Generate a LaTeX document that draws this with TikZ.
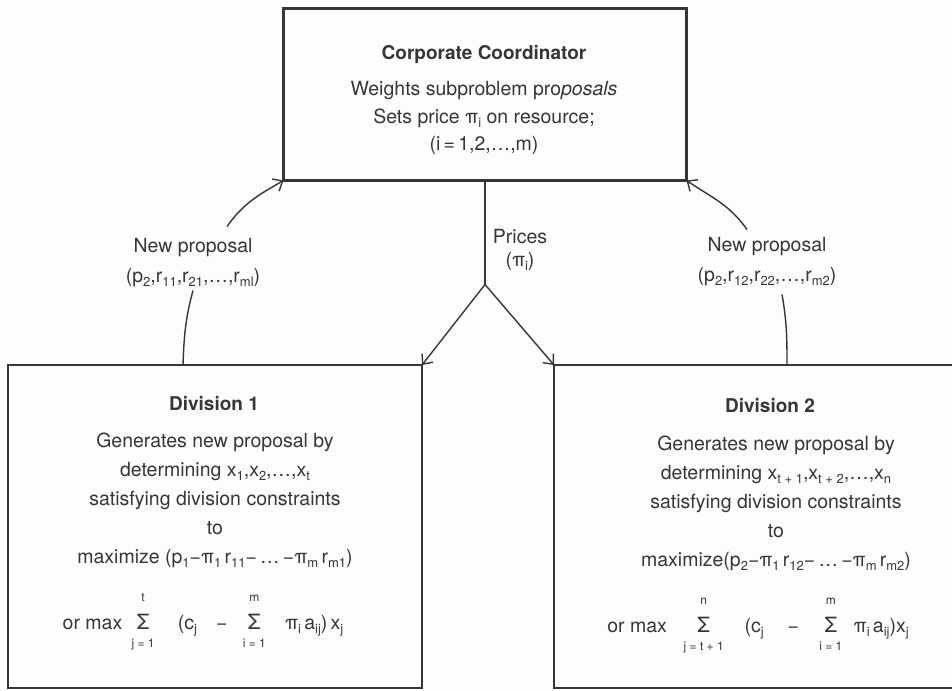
\documentclass[tikz,border=0pt]{standalone}
\usepackage{fontspec}
\setmainfont{TeX Gyre Heros}
\usetikzlibrary{positioning}
\usetikzlibrary{arrows.meta}
\definecolor{ink}{HTML}{363636}
\definecolor{paper}{HTML}{FDFDFB}
\newcommand{\sbs}[1]{\raisebox{-4pt}{\fontsize{13}{13}\selectfont #1}}
\newcommand{\limtext}[1]{{\fontsize{12}{12}\selectfont #1}}
\newcommand{\sumlim}[2]{\rlap{\makebox[0.7em]{\raisebox{28pt}{\limtext{#2}}}}\rlap{\makebox[0.7em]{\raisebox{-18pt}{\limtext{#1}}}}\makebox[0.7em]{{\fontsize{21}{21}\selectfont Σ}}}
\tikzset{boxline/.style={draw=ink,line width=2.4pt},arrowline/.style={draw=ink,line width=1.4pt,-{Straight Barb[length=8pt,width=14pt]}}}

\begin{document}
\begin{tikzpicture}[x=1pt,y=-1pt]
  \tikzstyle{abox}=[boxline,inner sep=0pt,outer sep=0pt]
  \tikzstyle{headtext}=[anchor=base,text=ink,font=\fontsize{19}{23}\selectfont\bfseries]
  \tikzstyle{bodytext}=[align=center,inner sep=0pt,text=ink,font=\fontsize{19.5}{29}\selectfont]
  \tikzstyle{labeltext}=[align=center,inner sep=3pt,text=ink,font=\fontsize{19.5}{30}\selectfont]
  \tikzstyle{curveline}=[draw=ink,line width=1.4pt]

  \useasboundingbox[fill=paper] (0,0) rectangle (952,690);

  % coordinator
  \node [abox,minimum width=403pt,minimum height=172pt] (coord) at (485,94.5) {};
  \node [headtext] (coordhead) at (484,60) {Corporate Coordinator};
  \node [bodytext,font=\fontsize{19.5}{27.5}\selectfont] (coordbody) at (484,118)
    {Weights subproblem pro\textit{posals}\\Sets price π\sbs{i} on resource;\\(i\,=\,1,2,…,m)};

  % divisions
  \node [abox,minimum width=414pt,minimum height=323pt] (div1) at (215,526.5) {};
  \node [inner sep=0pt,outer sep=0pt,minimum width=398pt,minimum height=323pt] (div2) at (753,526.5) {};
  \draw [boxline] (div2.north east) -- (div2.north west) -- (div2.south west) -- (div2.south east);

  \node [headtext] (div1head) at (214,410) {Division 1};
  \node [bodytext] (div1body) at (215,500)
    {Generates new proposal by\\determining x\sbs{1},x\sbs{2},…,x\sbs{t}\\satisfying division constraints\\to\\maximize (p\sbs{1}−π\sbs{1}\,r\sbs{11}−\,…\,−π\sbs{m}\,r\sbs{m1})};
  \node [bodytext,anchor=base] (div1sum) at (203,629)
    {or max\hspace{14pt}\sumlim{j = 1}{t}\hspace{28pt}(c\sbs{j}\hspace{19pt}−\hspace{20pt}\sumlim{i = 1}{m}\hspace{24pt}π\sbs{i}\,a\sbs{ij})\,x\sbs{j}};

  \node [headtext] (div2head) at (770,412) {Division 2};
  \node [bodytext] (div2body) at (776,503)
    {Generates new proposal by\\determining x\sbs{t + 1},x\sbs{t + 2},…,x\sbs{n}\\satisfying division constraints\\to\\maximize(p\sbs{2}−π\sbs{1}\,r\sbs{12}−\,…\,−π\sbs{m}\,r\sbs{m2})};
  \node [bodytext,anchor=base] (div2sum) at (758,632)
    {or max\hspace{30pt}\sumlim{j = t + 1}{n}\hspace{34pt}(c\sbs{j}\hspace{24pt}−\hspace{25pt}\sumlim{i = 1}{m}\hspace{16pt}π\sbs{i}\,a\sbs{ij})x\sbs{j}};

  % prices
  \coordinate (split) at ([yshift=-104pt]coord.south);
  \draw [curveline] (coord.south) -- (split);
  \draw [arrowline] (split) -- (div1.north east);
  \draw [arrowline] (split) -- (div2.north west);
  \node [labeltext,font=\fontsize{19.5}{23}\selectfont] (prices) at (520,250) {Prices\\(π\sbs{i})};

  % proposals
  \node [labeltext] (lnewprop) at (193,263) {New proposal\\(p\sbs{2},r\sbs{11},r\sbs{21},…,r\sbs{ml})};
  \node [labeltext] (rnewprop) at (767,262) {New proposal\\(p\sbs{2},r\sbs{12},r\sbs{22},…,r\sbs{m2})};
  \draw [curveline] ([xshift=-10pt]lnewprop.south |- div1.north) to[out=88,in=-105] (lnewprop.south);
  \draw [arrowline] ([xshift=34pt,yshift=9pt]lnewprop.north) to[out=55,in=-150] (coord.south west);
  \draw [curveline] ([xshift=20pt]rnewprop.south |- div2.north) to[out=90,in=-80] ([xshift=15pt,yshift=-5pt]rnewprop.south);
  \draw [arrowline] ([xshift=-20pt,yshift=5pt]rnewprop.north) to[out=125,in=-34] (coord.south east);
\end{tikzpicture}
\end{document}
